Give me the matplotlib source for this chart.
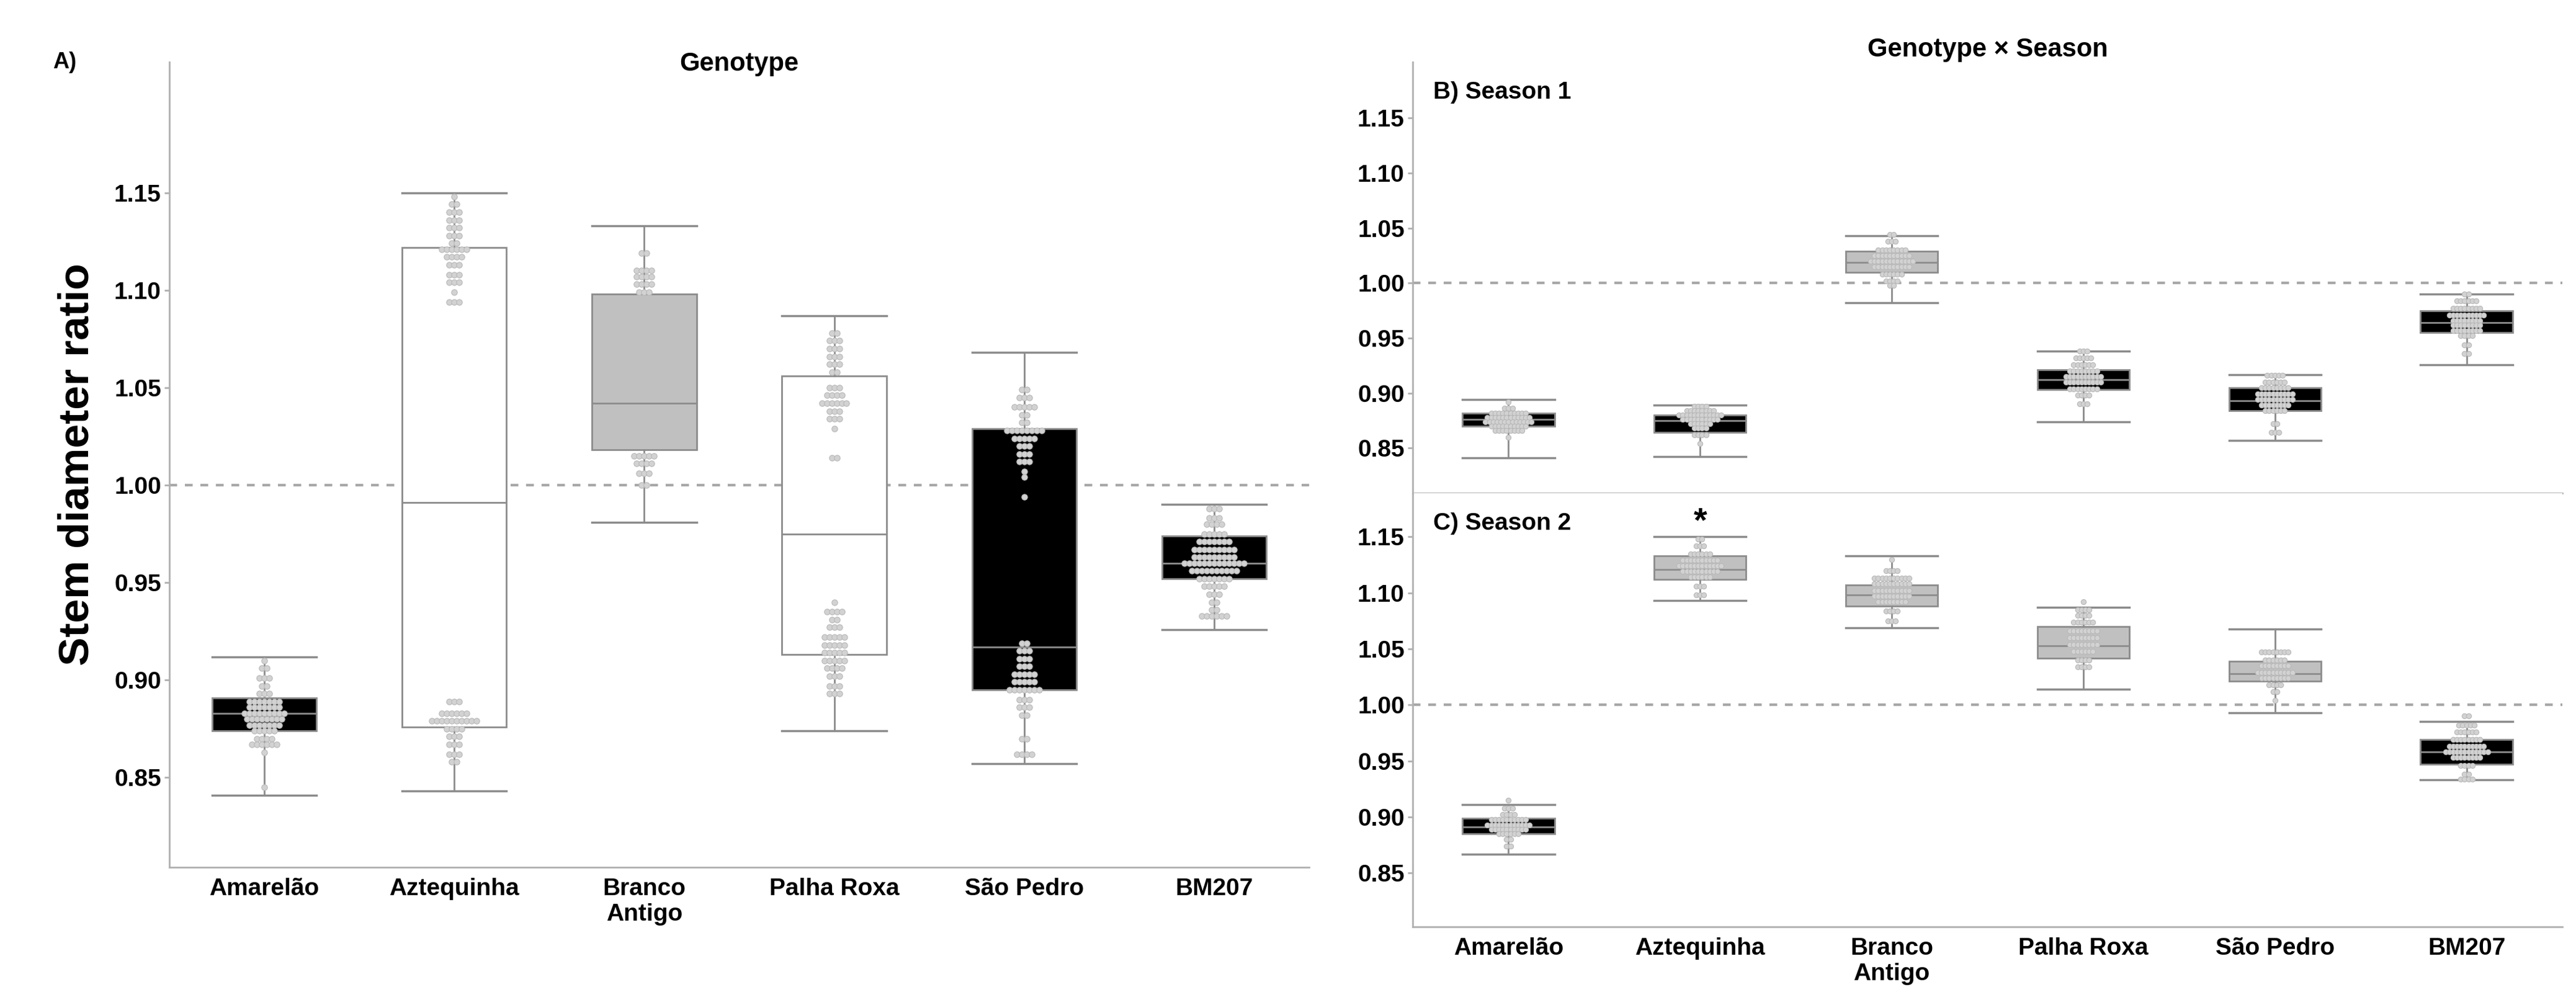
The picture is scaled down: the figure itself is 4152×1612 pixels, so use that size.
import matplotlib
matplotlib.use("Agg")
import matplotlib.pyplot as plt

plt.rcParams['font.family'] = ['Liberation Sans', 'DejaVu Sans']
plt.rcParams['font.weight'] = 'bold'
plt.rcParams['axes.titleweight'] = 'bold'
plt.rcParams['axes.labelweight'] = 'bold'

genotypes = ['Amarelão', 'Aztequinha', 'Branco\nAntigo', 'Palha Roxa', 'São Pedro', 'BM207']

# Panel A (Genotype): whisker low, q1, median, q3, whisker high
a_lo = [0.841, 0.843, 0.981, 0.874, 0.857, 0.926]
a_q1 = [0.874, 0.876, 1.018, 0.913, 0.895, 0.952]
a_med = [0.883, 0.991, 1.042, 0.975, 0.917, 0.960]
a_q3 = [0.891, 1.122, 1.098, 1.056, 1.029, 0.974]
a_hi = [0.912, 1.150, 1.133, 1.087, 1.068, 0.990]
a_fill = ['black', 'white', '#c0c0c0', 'white', 'black', 'black']

# Panel B (Season 1)
b_lo = [0.841, 0.842, 0.982, 0.874, 0.857, 0.926]
b_q1 = [0.870, 0.864, 1.010, 0.903, 0.884, 0.955]
b_med = [0.876, 0.875, 1.019, 0.912, 0.893, 0.964]
b_q3 = [0.882, 0.880, 1.029, 0.921, 0.905, 0.975]
b_hi = [0.894, 0.889, 1.043, 0.938, 0.917, 0.990]
b_fill = ['black', 'black', '#c0c0c0', 'black', 'black', 'black']

# Panel C (Season 2)
c_lo = [0.867, 1.093, 1.069, 1.014, 0.993, 0.933]
c_q1 = [0.885, 1.112, 1.088, 1.042, 1.021, 0.947]
c_med = [0.891, 1.121, 1.098, 1.053, 1.028, 0.958]
c_q3 = [0.899, 1.133, 1.107, 1.070, 1.039, 0.969]
c_hi = [0.911, 1.150, 1.133, 1.087, 1.068, 0.985]
c_fill = ['black', '#c0c0c0', '#c0c0c0', '#c0c0c0', '#c0c0c0', 'black']

# Dot plot data for panel A: (value, number of stacked dots)
a_dots = [
    [(0.910, 1), (0.906, 2), (0.901, 3), (0.897, 2), (0.893, 3), (0.889, 7), (0.886, 7),
     (0.883, 9), (0.880, 8), (0.877, 7), (0.874, 5), (0.870, 4), (0.867, 6), (0.863, 1), (0.845, 1)],
    [(1.148, 1), (1.144, 2), (1.140, 3), (1.136, 3), (1.132, 3), (1.128, 3), (1.124, 2),
     (1.121, 6), (1.117, 4), (1.113, 3), (1.108, 3), (1.104, 3), (1.099, 1), (1.094, 3),
     (0.889, 3), (0.883, 6), (0.879, 10), (0.875, 4), (0.871, 3), (0.867, 3), (0.862, 3), (0.858, 2)],
    [(1.119, 2), (1.110, 4), (1.107, 4), (1.103, 4), (1.099, 3), (1.015, 5), (1.011, 4),
     (1.006, 3), (1.000, 2)],
    [(1.078, 2), (1.074, 3), (1.070, 3), (1.066, 3), (1.062, 3), (1.058, 2), (1.050, 3),
     (1.046, 4), (1.042, 6), (1.038, 3), (1.034, 3), (1.029, 1), (1.014, 2), (0.940, 1),
     (0.935, 4), (0.931, 2), (0.927, 3), (0.922, 5), (0.918, 5), (0.914, 5), (0.910, 5),
     (0.906, 4), (0.902, 3), (0.897, 3), (0.893, 3)],
    [(1.049, 2), (1.045, 3), (1.040, 5), (1.036, 2), (1.032, 2), (1.028, 8), (1.024, 5),
     (1.020, 3), (1.016, 3), (1.012, 3), (1.007, 1), (1.004, 1), (0.994, 1), (0.919, 2),
     (0.915, 3), (0.911, 3), (0.907, 3), (0.903, 5), (0.899, 5), (0.895, 7), (0.890, 3),
     (0.886, 3), (0.882, 2), (0.870, 2), (0.862, 4)],
    [(0.988, 3), (0.983, 3), (0.980, 4), (0.975, 5), (0.971, 7), (0.967, 9), (0.963, 9),
     (0.960, 13), (0.956, 10), (0.952, 7), (0.948, 5), (0.944, 3), (0.940, 2), (0.936, 2),
     (0.933, 6)],
]

# Dot plot data for panels B and C
b_dots = [
    [(0.892, 1), (0.886, 3), (0.882, 10), (0.878, 12), (0.874, 13), (0.870, 10), (0.866, 8), (0.860, 1)],
    [(0.888, 4), (0.884, 8), (0.880, 12), (0.876, 10), (0.872, 6), (0.868, 4), (0.862, 4), (0.854, 1)],
    [(1.044, 2), (1.038, 3), (1.030, 8), (1.025, 10), (1.020, 12), (1.015, 10), (1.008, 6),
     (1.002, 4), (0.998, 2)],
    [(0.938, 3), (0.932, 5), (0.926, 6), (0.920, 8), (0.915, 10), (0.910, 10), (0.904, 8),
     (0.898, 4), (0.890, 3)],
    [(0.916, 5), (0.910, 6), (0.905, 8), (0.899, 10), (0.894, 10), (0.889, 8), (0.884, 6),
     (0.872, 2), (0.864, 3)],
    [(0.990, 2), (0.984, 6), (0.977, 8), (0.971, 10), (0.966, 8), (0.962, 8), (0.957, 8),
     (0.952, 4), (0.944, 2), (0.936, 2)],
]
c_dots = [
    [(0.915, 1), (0.908, 3), (0.902, 4), (0.898, 10), (0.893, 12), (0.889, 10), (0.885, 6),
     (0.880, 2), (0.874, 2)],
    [(1.148, 2), (1.142, 3), (1.135, 6), (1.129, 10), (1.124, 12), (1.119, 10), (1.114, 6),
     (1.106, 3), (1.098, 3)],
    [(1.130, 1), (1.120, 4), (1.113, 10), (1.108, 10), (1.102, 10), (1.097, 10), (1.092, 8),
     (1.084, 4), (1.075, 3)],
    [(1.092, 1), (1.085, 4), (1.080, 4), (1.074, 6), (1.066, 8), (1.060, 8), (1.054, 8),
     (1.048, 6), (1.040, 4), (1.034, 4)],
    [(1.047, 8), (1.040, 6), (1.035, 8), (1.029, 10), (1.024, 8), (1.018, 4), (1.012, 2),
     (1.004, 1)],
    [(0.990, 2), (0.982, 5), (0.976, 6), (0.969, 8), (0.963, 10), (0.958, 12), (0.953, 8),
     (0.946, 4), (0.938, 2), (0.934, 4)],
]

EDGE = '#8c8c8c'
DOT = '#d2d2d2'


def draw_panel(ax, lo, q1, med, q3, hi, fill, dots, width, dot_dx, dot_s):
    stats = []
    for i in range(len(lo)):
        stats.append(dict(whislo=lo[i], q1=q1[i], med=med[i], q3=q3[i], whishi=hi[i], fliers=[]))
    bp = ax.bxp(stats, positions=range(len(lo)), widths=width, patch_artist=True,
                showfliers=False, capwidths=width,
                boxprops=dict(edgecolor=EDGE, linewidth=2),
                whiskerprops=dict(color=EDGE, linewidth=2),
                capprops=dict(color=EDGE, linewidth=2.5),
                medianprops=dict(color=EDGE, linewidth=2))
    for patch, c in zip(bp['boxes'], fill):
        patch.set_facecolor(c)
    for i, group in enumerate(dots):
        for val, n in group:
            xs = [i + (k - (n - 1) / 2) * dot_dx for k in range(n)]
            ax.scatter(xs, [val] * n, s=dot_s, facecolor=DOT, edgecolor='#b8b8b8',
                       linewidth=0.8, zorder=5)
    ax.axhline(1.0, color='#a8a8a8', linestyle=(0, (3, 3)), linewidth=3, zorder=1)
    ax.set_xlim(-0.5, len(lo) - 0.5)
    for s in ['top', 'right']:
        ax.spines[s].set_visible(False)
    for s in ['left', 'bottom']:
        ax.spines[s].set_color('#b0b0b0')
        ax.spines[s].set_linewidth(2)
    ax.set_yticks([0.85, 0.90, 0.95, 1.00, 1.05, 1.10, 1.15])
    ax.set_yticklabels(['0.85', '0.90', '0.95', '1.00', '1.05', '1.10', '1.15'])
    ax.tick_params(axis='y', labelsize=28, color='#b0b0b0', width=2, length=6)
    ax.tick_params(axis='x', length=0, labelsize=28, pad=12)


fig = plt.figure(figsize=(41.52, 16.12), dpi=100)

# Panel A
axA = fig.add_axes([273 / 4152, 1 - 1398 / 1612, (2110 - 273) / 4152, (1398 - 100) / 1612])
draw_panel(axA, a_lo, a_q1, a_med, a_q3, a_hi, a_fill, a_dots, 0.55, 0.026, 45)
axA.set_ylim(0.804, 1.217)
axA.set_xticks(range(6))
axA.set_xticklabels(genotypes)
axA.set_ylabel('Stem diameter ratio', fontsize=50, labelpad=20)
axA.set_title('Genotype', fontsize=30, pad=-10, y=1.0)
fig.text(85 / 4152, 1 - 100 / 1612, 'A)', fontsize=26, va='center')

# Panel B
axB = fig.add_axes([2277 / 4152, 1 - 795 / 1612, (4130 - 2277) / 4152, (795 - 100) / 1612])
draw_panel(axB, b_lo, b_q1, b_med, b_q3, b_hi, b_fill, b_dots, 0.48, 0.02, 35)
axB.set_ylim(0.809, 1.201)
axB.set_xticks([])
axB.text(0.018, 0.93, 'B) Season 1', transform=axB.transAxes, fontsize=28, va='center')
axB.set_title('Genotype × Season', fontsize=30, pad=-10)

# Panel C
axC = fig.add_axes([2277 / 4152, 1 - 1494 / 1612, (4130 - 2277) / 4152, (1494 - 795) / 1612])
draw_panel(axC, c_lo, c_q1, c_med, c_q3, c_hi, c_fill, c_dots, 0.48, 0.02, 35)
axC.set_ylim(0.802, 1.189)
axC.set_xticks(range(6))
axC.set_xticklabels(genotypes)
axC.text(0.018, 0.93, 'C) Season 2', transform=axC.transAxes, fontsize=28, va='center')
axC.text(1, 1.163, '*', fontsize=40, ha='center', va='center')

fig.savefig('out.png', dpi=100)
